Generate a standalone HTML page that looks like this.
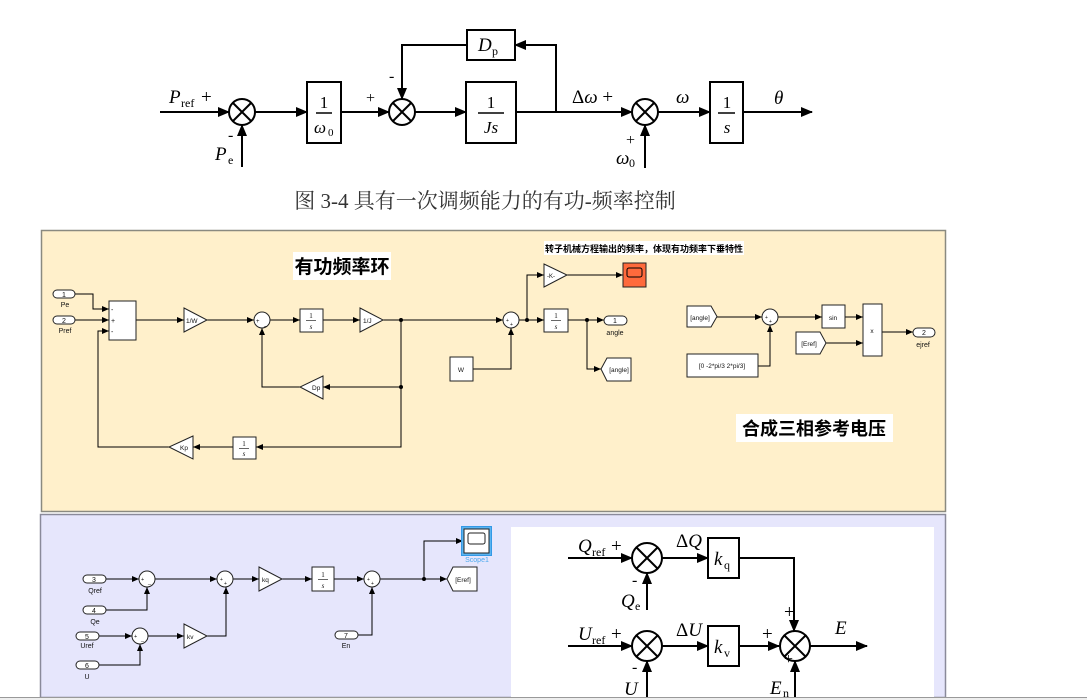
<!DOCTYPE html>
<html><head><meta charset="utf-8"><style>
html,body{margin:0;padding:0;background:#fff;}
svg{display:block}
.s{font-family:"Liberation Sans","Noto Sans CJK SC",sans-serif}
.m{font-family:"Liberation Serif",serif}
</style></head><body>
<svg width="1087" height="700" viewBox="0 0 1087 700" xmlns="http://www.w3.org/2000/svg">
<defs>
<marker id="A" markerWidth="12" markerHeight="10" refX="11" refY="5" orient="auto" markerUnits="userSpaceOnUse"><path d="M0,0 L12,5 L0,10 z" fill="#000"/></marker>
<marker id="a" markerWidth="7" markerHeight="6" refX="7" refY="3" orient="auto" markerUnits="userSpaceOnUse"><path d="M0,0 L7,3 L0,6 z" fill="#000"/></marker>
</defs>

<!-- ===== Top diagram ===== -->
<g stroke="#000" stroke-width="2" fill="none">
<line x1="160" y1="112" x2="229" y2="112" marker-end="url(#A)"/>
<line x1="242" y1="167" x2="242" y2="125" marker-end="url(#A)"/>
<line x1="255" y1="112" x2="307" y2="112" marker-end="url(#A)"/>
<line x1="341" y1="112" x2="389" y2="112" marker-end="url(#A)"/>
<line x1="415" y1="112" x2="466" y2="112" marker-end="url(#A)"/>
<line x1="516" y1="112" x2="632" y2="112" marker-end="url(#A)"/>
<polyline points="556,112 556,45 515,45" marker-end="url(#A)"/>
<polyline points="467,45 402,45 402,99" marker-end="url(#A)"/>
<line x1="645" y1="168" x2="645" y2="125" marker-end="url(#A)"/>
<line x1="658" y1="112" x2="710" y2="112" marker-end="url(#A)"/>
<line x1="743" y1="112" x2="812" y2="112" marker-end="url(#A)"/>
<rect x="307" y="82" width="34" height="61"/>
<rect x="466" y="82" width="50" height="61"/>
<rect x="467" y="30" width="48" height="30"/>
<rect x="710" y="82" width="33" height="61"/>
<line x1="316" y1="113" x2="332" y2="113" stroke-width="1.5"/>
<line x1="478" y1="113" x2="504" y2="113" stroke-width="1.5"/>
<line x1="718" y1="113" x2="735" y2="113" stroke-width="1.5"/>
</g>
<g stroke="#000" stroke-width="2" fill="#fff">
<circle cx="242" cy="112" r="13"/><path d="M233,103 L251,121 M251,103 L233,121"/>
<circle cx="402" cy="112" r="13"/><path d="M393,103 L411,121 M411,103 L393,121"/>
<circle cx="645" cy="112" r="13"/><path d="M636,103 L654,121 M654,103 L636,121"/>
</g>
<g class="m" font-size="19" fill="#000">
<text x="169" y="103" font-style="italic">P</text><text x="181" y="107" font-size="12">ref</text><text x="201" y="103">+</text>
<text x="228" y="140" font-size="16">-</text>
<text x="215" y="160" font-style="italic">P</text><text x="228" y="164" font-size="12">e</text>
<text x="324" y="108" text-anchor="middle" font-size="17">1</text>
<text x="320" y="133" text-anchor="middle" font-style="italic" font-size="17">ω</text><text x="328" y="136" font-size="11">0</text>
<text x="366" y="103" font-size="16">+</text>
<text x="389" y="81" font-size="16">-</text>
<text x="491" y="108" text-anchor="middle" font-size="17">1</text>
<text x="491" y="133" text-anchor="middle" font-style="italic" font-size="17">Js</text>
<text x="478" y="51" font-style="italic">D</text><text x="492" y="55" font-size="12">p</text>
<text x="572" y="103">Δ<tspan font-style="italic">ω</tspan> +</text>
<text x="626" y="145" font-size="16">+</text>
<text x="616" y="164" font-style="italic">ω</text><text x="629" y="167" font-size="12">0</text>
<text x="676" y="103" font-style="italic">ω</text>
<text x="727" y="108" text-anchor="middle" font-size="17">1</text>
<text x="727" y="133" text-anchor="middle" font-style="italic" font-size="17">s</text>
<text x="774" y="104" font-style="italic">θ</text>
</g>
<text x="485" y="208" text-anchor="middle" font-family="'Liberation Serif','Noto Serif CJK SC',serif" font-size="21" fill="#333">图 3-4 具有一次调频能力的有功-频率控制</text>

<!-- ===== Yellow panel ===== -->
<rect x="41.5" y="230.5" width="904" height="281" fill="#fff0cb" stroke="#8a8a80" stroke-width="1.5"/>
<rect x="293" y="252" width="98" height="28" fill="#fff"/>
<text x="342" y="273" text-anchor="middle" class="s" font-size="19" font-weight="bold">有功频率环</text>
<rect x="544" y="241" width="200" height="14" fill="#fff"/>
<text x="644" y="252" text-anchor="middle" class="s" font-size="9" font-weight="bold">转子机械方程输出的频率，体现有功频率下垂特性</text>
<rect x="736" y="414" width="157" height="28" fill="#fff"/>
<text x="814" y="435" text-anchor="middle" class="s" font-size="18" font-weight="bold">合成三相参考电压</text>

<g stroke="#000" stroke-width="1" fill="none">
<polyline points="75,294 93,294 93,309 109,309" marker-end="url(#a)"/>
<line x1="75" y1="320" x2="109" y2="320" marker-end="url(#a)"/>
<polyline points="169,447 98,447 98,331 109,331" marker-end="url(#a)"/>
<line x1="136" y1="320" x2="184" y2="320" marker-end="url(#a)"/>
<line x1="207" y1="320" x2="254" y2="320" marker-end="url(#a)"/>
<line x1="270" y1="320" x2="300" y2="320" marker-end="url(#a)"/>
<line x1="323" y1="320" x2="360" y2="320" marker-end="url(#a)"/>
<line x1="383" y1="320" x2="503" y2="320" marker-end="url(#a)"/>
<polyline points="401,320 401,447 256,447" marker-end="url(#a)"/>
<line x1="401" y1="387" x2="323" y2="387" marker-end="url(#a)"/>
<polyline points="300,387 262,387 262,328" marker-end="url(#a)"/>
<line x1="233" y1="447" x2="193" y2="447" marker-end="url(#a)"/>
<polyline points="473,369 511,369 511,328" marker-end="url(#a)"/>
<line x1="519" y1="320" x2="544" y2="320" marker-end="url(#a)"/>
<polyline points="527,320 527,275 544,275" marker-end="url(#a)"/>
<line x1="567" y1="275" x2="623" y2="275" marker-end="url(#a)"/>
<line x1="568" y1="320" x2="604" y2="320" marker-end="url(#a)"/>
<polyline points="587,320 587,369 601,369" marker-end="url(#a)"/>
<line x1="717" y1="317" x2="762" y2="317" marker-end="url(#a)"/>
<polyline points="758,366 770,366 770,325" marker-end="url(#a)"/>
<line x1="778" y1="317" x2="822" y2="317" marker-end="url(#a)"/>
<line x1="845" y1="317" x2="863" y2="317" marker-end="url(#a)"/>
<line x1="826" y1="343" x2="863" y2="343" marker-end="url(#a)"/>
<line x1="882" y1="332" x2="913" y2="332" marker-end="url(#a)"/>
</g>
<g fill="#000"><circle cx="401" cy="320" r="2"/><circle cx="401" cy="387" r="2"/><circle cx="527" cy="320" r="2"/><circle cx="587" cy="320" r="2"/></g>
<g stroke="#222" stroke-width="1" fill="#fff" class="s" font-size="7">
<rect x="53" y="290" width="22" height="8" rx="4"/><rect x="53" y="316" width="22" height="8" rx="4"/>
<rect x="109" y="301" width="27" height="39"/>
<polygon points="184,308 207,320 184,332"/>
<circle cx="262" cy="320" r="8"/>
<rect x="300" y="309" width="23" height="23"/>
<polygon points="360,308 383,320 360,332"/>
<polygon points="323,376 300,387 323,399"/>
<rect x="233" y="437" width="23" height="22"/>
<polygon points="193,436 169,447 193,459"/>
<rect x="450" y="357" width="23" height="24"/>
<circle cx="511" cy="320" r="8"/>
<polygon points="544,264 567,275 544,287"/>
<rect x="623" y="263" width="23" height="24" fill="#ff6a3c"/>
<rect x="627" y="268" width="15" height="9" rx="2" fill="#ff6a3c" stroke="#000"/>
<rect x="544" y="309" width="24" height="23"/>
<rect x="604" y="316" width="23" height="9" rx="4.5"/>
<polygon points="601,369 607,358 631,358 631,381 607,381"/>
<polygon points="687,306 711,306 717,316.5 711,327 687,327"/>
<circle cx="770" cy="317" r="8"/>
<rect x="687" y="354" width="71" height="23"/>
<rect x="822" y="305" width="23" height="23"/>
<rect x="863" y="304" width="19" height="52"/>
<polygon points="796,332 820,332 826,343 820,354 796,354"/>
<rect x="913" y="328" width="22" height="9" rx="4.5"/>
</g>
<g class="s" font-size="7" fill="#111">
<text x="64" y="297" text-anchor="middle">1</text><text x="64" y="323" text-anchor="middle">2</text>
<text x="65" y="307" text-anchor="middle">Pe</text><text x="65" y="333" text-anchor="middle">Pref</text>
<text x="111" y="312">-</text><text x="111" y="323">+</text><text x="111" y="334">-</text>
<text x="186" y="323" font-size="6.5">1/W</text>
<text x="256" y="323" font-size="6">+</text><text x="264" y="325" font-size="6">_</text>
<text x="311" y="318" text-anchor="middle" class="m">1</text><line x1="306" y1="320.5" x2="316" y2="320.5" stroke="#000" stroke-width="0.6"/><text x="311" y="329" text-anchor="middle" class="m" font-style="italic">s</text>
<text x="363" y="323" font-size="6.5">1/J</text>
<text x="312" y="390" font-size="6.5">Dp</text>
<text x="244" y="446" text-anchor="middle" class="m">1</text><line x1="239" y1="448.5" x2="249" y2="448.5" stroke="#000" stroke-width="0.6"/><text x="244" y="456" text-anchor="middle" class="m" font-style="italic">s</text>
<text x="180" y="450" font-size="6.5">Kp</text>
<text x="461" y="372" text-anchor="middle" font-size="6.5">W</text>
<text x="506" y="322" font-size="5">+</text><text x="510" y="326" font-size="5">+</text>
<text x="547" y="278" font-size="6">-K-</text>
<text x="556" y="318" text-anchor="middle" class="m">1</text><line x1="551" y1="320.5" x2="561" y2="320.5" stroke="#000" stroke-width="0.6"/><text x="556" y="329" text-anchor="middle" class="m" font-style="italic">s</text>
<text x="615" y="323" text-anchor="middle">1</text><text x="615" y="335" text-anchor="middle">angle</text>
<text x="619" y="372" text-anchor="middle" font-size="6.5">[angle]</text>
<text x="700" y="320" text-anchor="middle" font-size="6.5">[angle]</text>
<text x="765" y="319" font-size="5">+</text><text x="769" y="323" font-size="5">+</text>
<text x="722" y="368" text-anchor="middle" font-size="6.5">[0 -2*pi/3 2*pi/3]</text>
<text x="833" y="320" text-anchor="middle" font-size="6.5">sin</text>
<text x="872" y="333" text-anchor="middle" font-size="6.5">x</text>
<text x="809" y="346" text-anchor="middle" font-size="6.5">[Eref]</text>
<text x="924" y="335" text-anchor="middle">2</text><text x="923" y="347" text-anchor="middle">ejref</text>
</g>

<!-- ===== Blue panel ===== -->
<rect x="40.5" y="514.5" width="905" height="183" fill="#e6e6fc" stroke="#8a8a9a" stroke-width="1.5"/>
<rect x="511" y="527" width="423" height="170" fill="#fff"/>
<line x1="0" y1="697.5" x2="1087" y2="697.5" stroke="#999" stroke-width="1"/>
<rect x="0" y="698" width="1087" height="2" fill="#eee"/>

<g stroke="#000" stroke-width="1" fill="none">
<line x1="106" y1="579" x2="139" y2="579" marker-end="url(#a)"/>
<polyline points="106,610 147,610 147,587" marker-end="url(#a)"/>
<line x1="99" y1="636" x2="132" y2="636" marker-end="url(#a)"/>
<polyline points="99,665 140,665 140,644" marker-end="url(#a)"/>
<line x1="155" y1="579" x2="217" y2="579" marker-end="url(#a)"/>
<line x1="148" y1="636" x2="184" y2="636" marker-end="url(#a)"/>
<polyline points="207,636 226,636 226,587" marker-end="url(#a)"/>
<line x1="233" y1="579" x2="259" y2="579" marker-end="url(#a)"/>
<line x1="282" y1="579" x2="312" y2="579" marker-end="url(#a)"/>
<line x1="334" y1="579" x2="364" y2="579" marker-end="url(#a)"/>
<polyline points="358,635 372,635 372,587" marker-end="url(#a)"/>
<line x1="380" y1="579" x2="447" y2="579" marker-end="url(#a)"/>
<polyline points="424,579 424,541 463,541" marker-end="url(#a)"/>
</g>
<circle cx="424" cy="579" r="2" fill="#000"/>
<g stroke="#222" stroke-width="1" fill="#fff">
<rect x="83" y="575" width="23" height="8" rx="4"/><rect x="83" y="606" width="23" height="8" rx="4"/>
<rect x="76" y="632" width="23" height="8" rx="4"/><rect x="76" y="661" width="23" height="8" rx="4"/>
<circle cx="147" cy="579" r="8"/><circle cx="140" cy="636" r="8"/><circle cx="225" cy="579" r="8"/><circle cx="372" cy="579" r="8"/>
<polygon points="184,624 207,636 184,648"/>
<polygon points="259,567 282,579 259,591"/>
<rect x="312" y="567" width="22" height="24"/>
<rect x="335" y="631" width="23" height="8" rx="4"/>
<polygon points="447,579 453,567 477,567 477,591 453,591"/>
<rect x="461.5" y="526.5" width="30" height="29" fill="#5ab4f0" stroke="#3399e6"/>
<rect x="464" y="529" width="25" height="24" fill="#fff"/>
<rect x="468" y="533" width="17" height="11" rx="2"/>
</g>
<g class="s" font-size="7" fill="#111">
<text x="94" y="582" text-anchor="middle">3</text><text x="95" y="593" text-anchor="middle">Qref</text>
<text x="94" y="613" text-anchor="middle">4</text><text x="95" y="624" text-anchor="middle">Qe</text>
<text x="87" y="639" text-anchor="middle">5</text><text x="87" y="648" text-anchor="middle">Uref</text>
<text x="87" y="668" text-anchor="middle">6</text><text x="87" y="679" text-anchor="middle">U</text>
<text x="141" y="581" font-size="5.5">+</text><text x="148" y="584" font-size="5.5">_</text>
<text x="134" y="638" font-size="5.5">+</text><text x="141" y="641" font-size="5.5">_</text>
<text x="220" y="581" font-size="5">+</text><text x="224" y="585" font-size="5">+</text>
<text x="367" y="581" font-size="5">+</text><text x="371" y="585" font-size="5">+</text>
<text x="187" y="639" font-size="6.5">kv</text>
<text x="262" y="582" font-size="6.5">kq</text>
<text x="323" y="577" text-anchor="middle" class="m">1</text><line x1="318" y1="579.5" x2="328" y2="579.5" stroke="#000" stroke-width="0.6"/><text x="323" y="588" text-anchor="middle" class="m" font-style="italic">s</text>
<text x="346" y="638" text-anchor="middle">7</text><text x="346" y="648" text-anchor="middle">En</text>
<text x="463" y="582" text-anchor="middle" font-size="6.5">[Eref]</text>
<text x="477" y="562" text-anchor="middle" fill="#4aa8ee">Scope1</text>
</g>

<!-- ===== Bottom right diagram ===== -->
<g stroke="#000" stroke-width="2" fill="none">
<line x1="568" y1="558" x2="632" y2="558" marker-end="url(#A)"/>
<line x1="647" y1="610" x2="647" y2="573" marker-end="url(#A)"/>
<line x1="662" y1="558" x2="708" y2="558" marker-end="url(#A)"/>
<polyline points="739,558 794,558 794,631" marker-end="url(#A)"/>
<line x1="568" y1="646" x2="632" y2="646" marker-end="url(#A)"/>
<line x1="647" y1="697" x2="647" y2="661" marker-end="url(#A)"/>
<line x1="662" y1="646" x2="708" y2="646" marker-end="url(#A)"/>
<line x1="739" y1="646" x2="779" y2="646" marker-end="url(#A)"/>
<line x1="795" y1="697" x2="795" y2="661" marker-end="url(#A)"/>
<line x1="810" y1="646" x2="867" y2="646" marker-end="url(#A)"/>
<rect x="708" y="538" width="31" height="40"/>
<rect x="708" y="626" width="31" height="40"/>
</g>
<g stroke="#000" stroke-width="2" fill="#fff">
<circle cx="647" cy="558" r="15"/><path d="M636,547 L658,569 M658,547 L636,569"/>
<circle cx="647" cy="646" r="15"/><path d="M636,635 L658,657 M658,635 L636,657"/>
<circle cx="795" cy="646" r="15"/><path d="M784,635 L806,657 M806,635 L784,657"/>
</g>
<g class="m" font-size="19" fill="#000">
<text x="578" y="552" font-style="italic">Q</text><text x="592" y="556" font-size="12">ref</text><text x="611" y="552">+</text>
<text x="632" y="585" font-size="16">-</text>
<text x="621" y="607" font-style="italic">Q</text><text x="635" y="610" font-size="12">e</text>
<text x="676" y="547">Δ<tspan font-style="italic">Q</tspan></text>
<text x="714" y="565" font-style="italic">k</text><text x="724" y="569" font-size="12">q</text>
<text x="784" y="618">+</text>
<text x="578" y="640" font-style="italic">U</text><text x="592" y="644" font-size="12">ref</text><text x="611" y="640">+</text>
<text x="632" y="672" font-size="16">-</text>
<text x="624" y="695" font-style="italic">U</text>
<text x="676" y="636">Δ<tspan font-style="italic">U</tspan></text>
<text x="714" y="653" font-style="italic">k</text><text x="724" y="657" font-size="12">v</text>
<text x="762" y="640">+</text>
<text x="835" y="634" font-style="italic">E</text>
<text x="784" y="664" font-size="16">+</text>
<text x="770" y="694" font-style="italic">E</text><text x="783" y="697" font-size="12">n</text>
</g>
</svg>
</body></html>
